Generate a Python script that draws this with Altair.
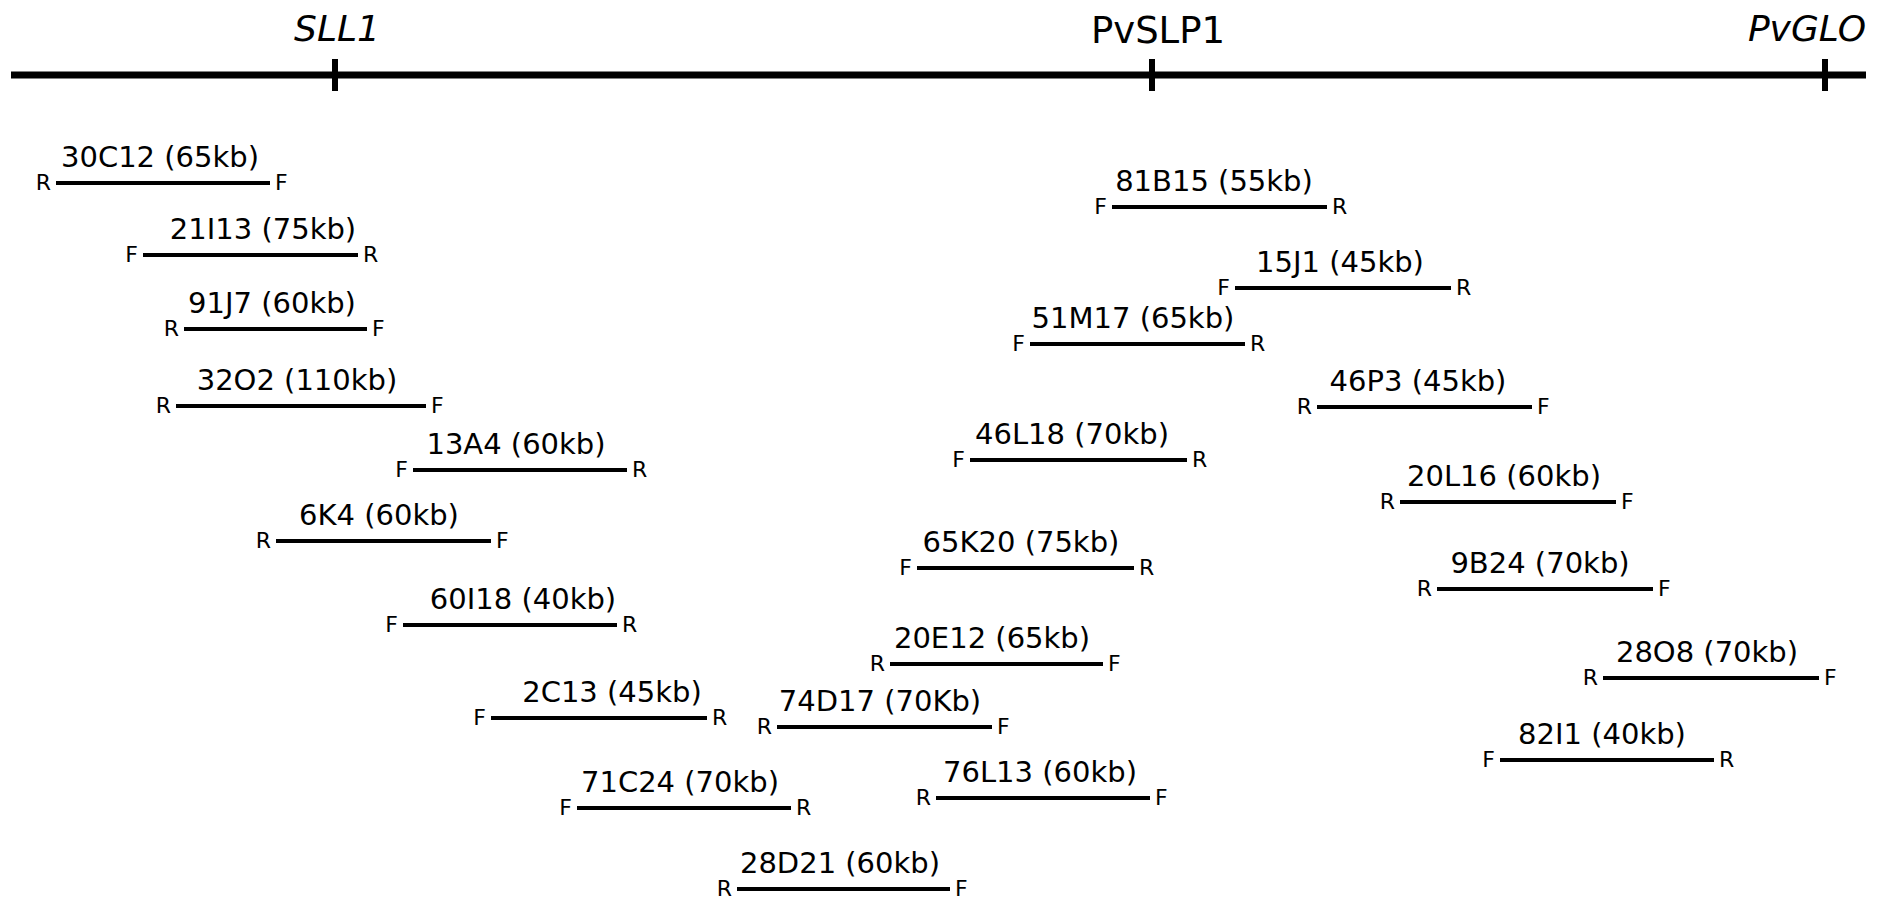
import altair as alt
import pandas as pd

# Gene markers on the backbone (map position units = reference pixels)
gene_names = ["SLL1", "PvSLP1", "PvGLO"]
gene_pos = [335, 1152, 1825]
gene_label_x = [337, 1158, 1807]
gene_italic = [True, False, True]

backbone_start = [11]
backbone_end = [1866]
backbone_y = [75]

# BAC clones
clone_names = ["30C12 (65kb)", "21I13 (75kb)", "91J7 (60kb)", "32O2 (110kb)", "13A4 (60kb)",
               "6K4 (60kb)", "60I18 (40kb)", "2C13 (45kb)", "71C24 (70kb)", "28D21 (60kb)",
               "74D17 (70Kb)", "20E12 (65kb)", "76L13 (60kb)", "65K20 (75kb)", "46L18 (70kb)",
               "51M17 (65kb)", "81B15 (55kb)", "15J1 (45kb)", "46P3 (45kb)", "20L16 (60kb)",
               "9B24 (70kb)", "28O8 (70kb)", "82I1 (40kb)"]
clone_start = [56, 143, 184, 176, 413, 276, 403, 491, 577, 737, 777, 890, 936, 917, 970,
               1030, 1112, 1235, 1317, 1400, 1437, 1603, 1500]
clone_end = [270, 358, 367, 426, 627, 491, 617, 707, 791, 950, 992, 1103, 1150, 1134, 1187,
             1245, 1327, 1451, 1532, 1616, 1653, 1819, 1714]
clone_row = [183, 255, 329, 406, 470, 541, 625, 718, 808, 889, 727, 664, 798, 568, 460,
             344, 207, 288, 407, 502, 589, 678, 760]
clone_label_x = [160, 263, 272, 297, 516, 379, 523, 612, 680, 840, 880, 992, 1040, 1021, 1072,
                 1133, 1214, 1340, 1418, 1504, 1540, 1707, 1602]
clone_left_end = ["R", "F", "R", "R", "F", "R", "F", "F", "F", "R", "R", "R", "R", "F", "F",
                  "F", "F", "F", "R", "R", "R", "R", "F"]
clone_right_end = ["F", "R", "F", "F", "R", "F", "R", "R", "R", "F", "F", "F", "F", "R", "R",
                   "R", "R", "R", "F", "F", "F", "F", "R"]

genes = pd.DataFrame({"name": gene_names, "pos": gene_pos, "lx": gene_label_x, "italic": gene_italic})
backbone = pd.DataFrame({"x1": backbone_start, "x2": backbone_end, "y": backbone_y})
clones = pd.DataFrame({"name": clone_names, "x1": clone_start, "x2": clone_end, "y": clone_row,
                       "lx": clone_label_x, "left": clone_left_end, "right": clone_right_end})

W, H = 1880, 894
xs = alt.Scale(domain=[8, 8 + W], nice=False, zero=False)
ys = alt.Scale(domain=[8, 8 + H], nice=False, zero=False, reverse=True)
FONT = "DejaVu Sans"

def X(f):
    return alt.X(f, type="quantitative", scale=xs, axis=None)

def Y(f):
    return alt.Y(f, type="quantitative", scale=ys, axis=None)

base_line = alt.Chart(backbone).mark_rule(color="black", strokeWidth=7).encode(
    x=X("x1"), x2="x2", y=Y("y"))

ticks = alt.Chart(genes).transform_calculate(t="59", b="91").mark_rule(
    color="black", strokeWidth=6).encode(x=X("pos"), y=Y("t:Q"), y2="b:Q")

gene_it = alt.Chart(genes).transform_filter("datum.italic").transform_calculate(ty="41").mark_text(
    font=FONT, fontSize=36, fontStyle="italic", align="center", baseline="alphabetic", color="black"
).encode(x=X("lx"), y=Y("ty:Q"), text="name:N")

gene_up = alt.Chart(genes).transform_filter("!datum.italic").transform_calculate(ty="43").mark_text(
    font=FONT, fontSize=37, align="center", baseline="alphabetic", color="black"
).encode(x=X("lx"), y=Y("ty:Q"), text="name:N")

clone_lines = alt.Chart(clones).mark_rule(color="black", strokeWidth=4).encode(
    x=X("x1"), x2="x2", y=Y("y"))

clone_labels = alt.Chart(clones).mark_text(
    font=FONT, fontSize=29, align="center", baseline="alphabetic", dy=-16, color="black"
).encode(x=X("lx"), y=Y("y"), text="name:N")

left_letters = alt.Chart(clones).mark_text(
    font=FONT, fontSize=22, align="right", baseline="alphabetic", dx=-5, dy=7, color="black"
).encode(x=X("x1"), y=Y("y"), text="left:N")

right_letters = alt.Chart(clones).mark_text(
    font=FONT, fontSize=22, align="left", baseline="alphabetic", dx=5, dy=7, color="black"
).encode(x=X("x2"), y=Y("y"), text="right:N")

chart = alt.layer(base_line, ticks, gene_it, gene_up, clone_lines, clone_labels,
                  left_letters, right_letters).properties(
    width=W, height=H, padding=0, autosize=alt.AutoSizeParams(type="none"),
    background="white"
).configure_view(stroke=None)

chart.save("out.html", embed_options={"renderer": "svg", "actions": False})
